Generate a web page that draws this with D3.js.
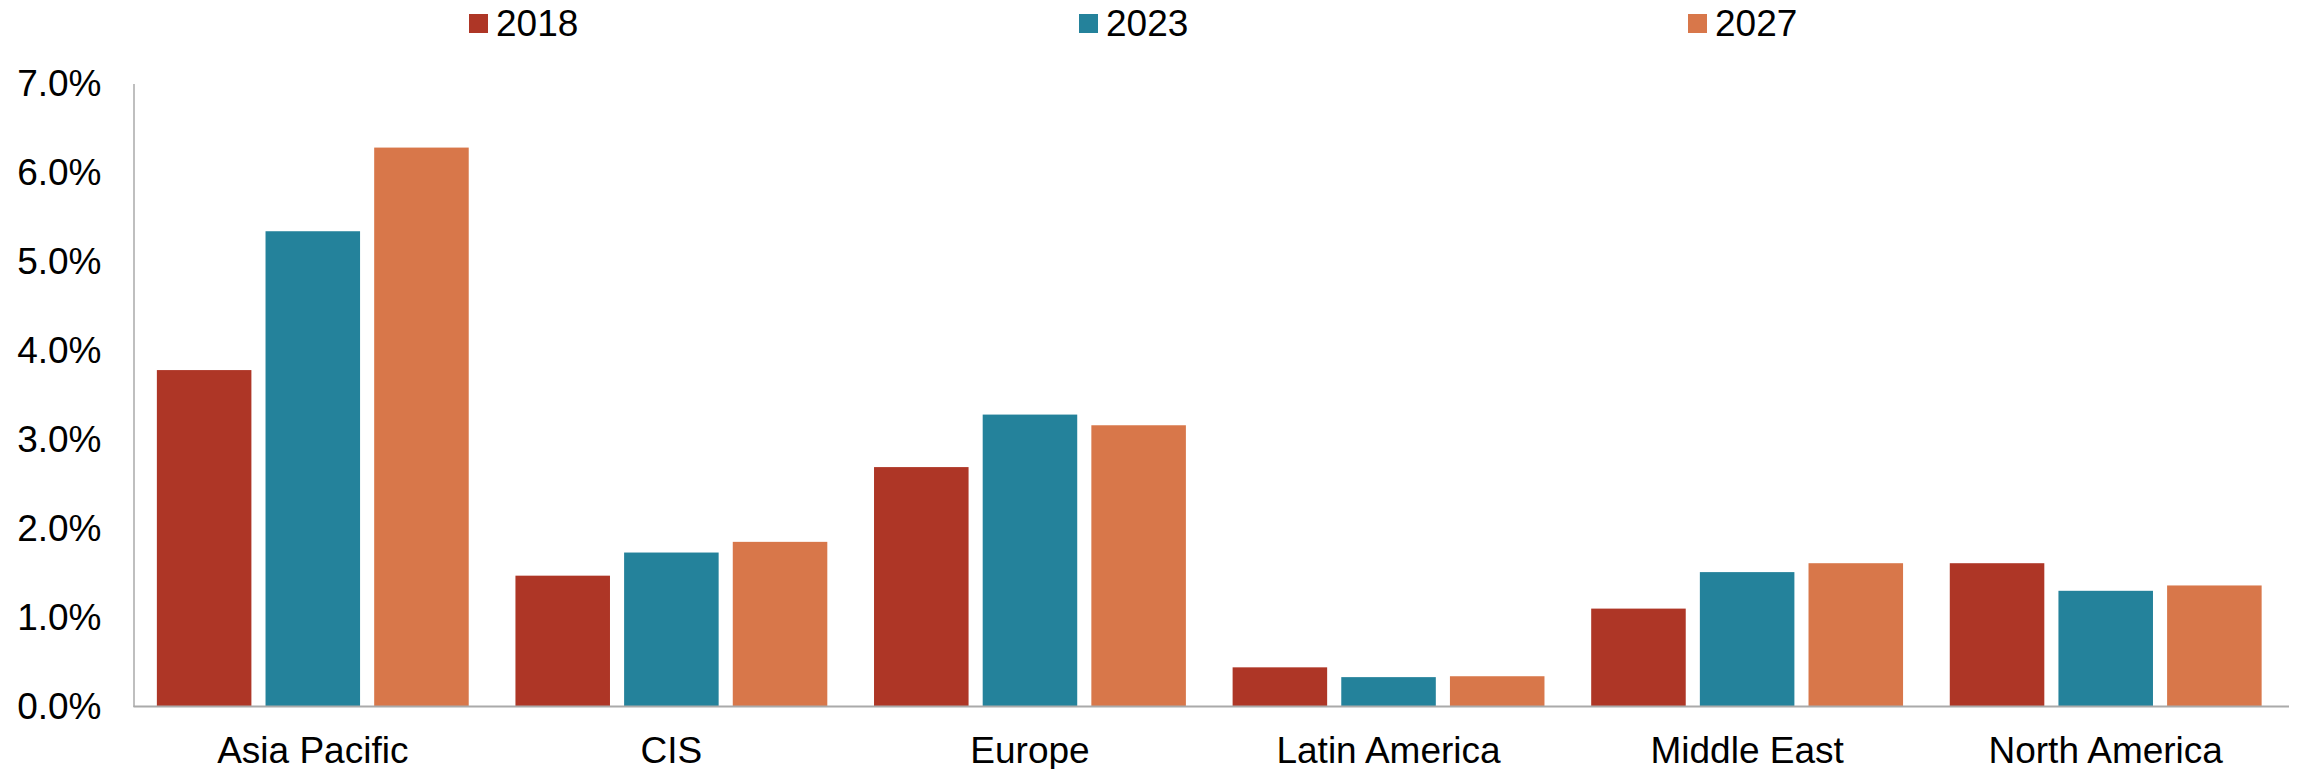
<html>
<head>
<meta charset="utf-8">
<script src="https://cdn.jsdelivr.net/npm/d3@7"></script>
<style>
body { margin: 0; background: #fff; }
text { font-family: "Liberation Sans", Arial, sans-serif; fill: #000; }
</style>
</head>
<body>
<script>

// data
var regions = ["Asia Pacific", "CIS", "Europe", "Latin America", "Middle East", "North America"]
var years = ["2018", "2023", "2027"]
var v2018 = [0.0378, 0.0147, 0.0269, 0.0044, 0.0110, 0.0161]
var v2023 = [0.0534, 0.0173, 0.0328, 0.0033, 0.0151, 0.0130]
var v2027 = [0.0628, 0.0185, 0.0316, 0.0034, 0.0161, 0.0136]
var yTicks = [0, 0.01, 0.02, 0.03, 0.04, 0.05, 0.06, 0.07]
var colors = ["#ae3626", "#24829b", "#d8774a"]

var series = [v2018, v2023, v2027]
var data = regions.map(function(r, i) {
  return {region: r, values: years.map(function(y, j) { return {year: y, value: series[j][i]} })}
})

var W = 2298, H = 769
var m = {left: 133.5, right: 2285, top: 83.5, bottom: 706.5}

var svg = d3.select("body").append("svg").attr("width", W).attr("height", H)

var x0 = d3.scaleBand().domain(regions).range([m.left, m.right]).padding(0)
var x1 = d3.scaleBand().domain(years).range([0, x0.bandwidth()])
  .paddingInner(0.13).paddingOuter(0.215)
var y = d3.scaleLinear().domain([0, 0.07]).range([m.bottom, m.top])
var color = d3.scaleOrdinal().domain(years).range(colors)

// bars
var groups = svg.selectAll("g.grp").data(data).enter().append("g")
  .attr("class", "grp")
  .attr("transform", function(d) { return "translate(" + x0(d.region) + ",0)" })

groups.selectAll("rect").data(function(d) { return d.values }).enter().append("rect")
  .attr("x", function(d) { return x1(d.year) })
  .attr("y", function(d) { return y(d.value) })
  .attr("width", x1.bandwidth())
  .attr("height", function(d) { return m.bottom - y(d.value) })
  .attr("fill", function(d) { return color(d.year) })

// y axis
var yAxis = svg.append("g")
  .attr("transform", "translate(" + m.left + ",0)")
  .call(d3.axisLeft(y).tickValues(yTicks).tickFormat(d3.format(".1%"))
    .tickSizeInner(0).tickSizeOuter(0).tickPadding(32))
yAxis.selectAll("text").attr("font-size", "37px").attr("font-family", null)
yAxis.select(".domain").attr("stroke", "#aaaaaa").attr("stroke-width", 1.5)

// x axis
var xAxis = svg.append("g")
  .attr("transform", "translate(0," + m.bottom + ")")
  .call(d3.axisBottom(x0).tickSizeInner(0).tickSizeOuter(0))
xAxis.selectAll("text").attr("font-size", "37px").attr("font-family", null)
  .attr("dy", null).attr("y", 56)
xAxis.select(".domain").attr("stroke", "#aaaaaa").attr("stroke-width", 2)
  .attr("d", "M" + m.left + ",0H" + (m.right + 4))

// legend
var legX = d3.scaleOrdinal().domain(years).range([469, 1079, 1688])
var leg = svg.selectAll(".legend").data(years).enter().append("g")
  .attr("class", "legend")
  .attr("transform", function(d) { return "translate(" + legX(d) + ",0)" })
leg.append("rect").attr("x", 0).attr("y", 14).attr("width", 19).attr("height", 19)
  .attr("fill", function(d) { return color(d) })
leg.append("text").attr("x", 27).attr("y", 36).attr("font-size", "37px")
  .text(function(d) { return d })

</script>
</body>
</html>
